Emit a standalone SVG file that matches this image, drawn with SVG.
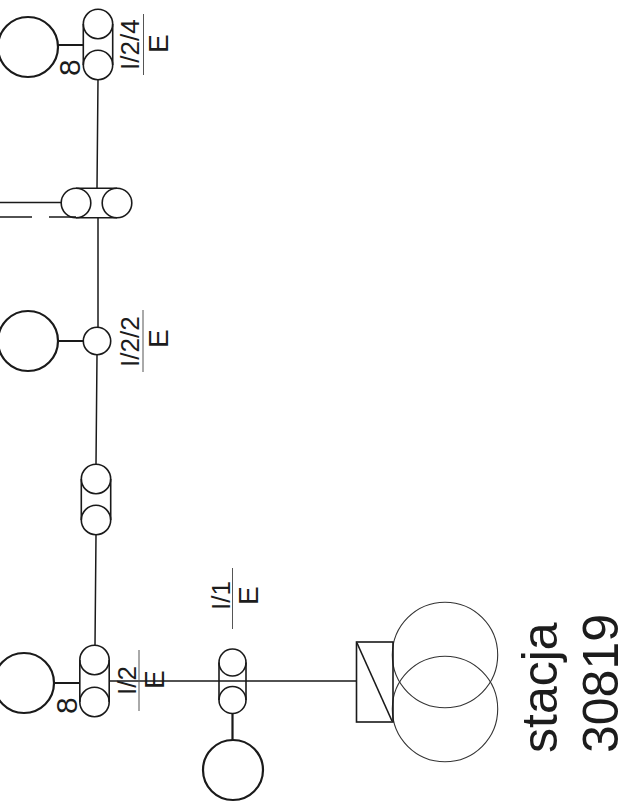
<svg xmlns="http://www.w3.org/2000/svg" width="624" height="810" viewBox="0 0 624 810">
<style>
text{font-family:"Liberation Sans",Arial,sans-serif;fill:#1c1c1c}
.l{font-size:26px}
.e{font-size:28px}
.n{font-size:30px}
.b{font-size:50px}
.big{fill:none;stroke:#1a1a1a;stroke-width:2.2}
.sm{fill:none;stroke:#1a1a1a;stroke-width:1.6}
.tr{fill:none;stroke:#333;stroke-width:1.1}
.w{fill:none;stroke:#1a1a1a;stroke-width:1.5}
.s{fill:none;stroke:#1a1a1a;stroke-width:2.2}
.d{fill:none;stroke:#555;stroke-width:1}
</style>
<rect width="624" height="810" fill="#fff"/>
<g id="connectors">
<path class="w" d="M98 79L97 188M98 217L98 327M97 355L96 464M96 535L95 645M109 681H357"/>
<path class="w" d="M0 202.500H61M0 217H32M49 217H76"/>
<path class="s" d="M57 45H83M57 341H83M54 683H80M232.500 713V740"/>
</g>
<g id="gen-1"><circle class="big" cx="28" cy="47" r="30"/></g>
<g id="gen-2"><circle class="big" cx="28" cy="341" r="30"/></g>
<g id="gen-3"><circle class="big" cx="24" cy="683" r="30"/></g>
<g id="gen-4"><circle class="big" cx="233" cy="770" r="30"/></g>
<g id="node-i24">
<circle class="sm" cx="98" cy="24" r="14.700"/><circle class="sm" cx="98" cy="65" r="14.700"/>
<path class="sm" d="M83.300 24V65M112.700 24V65"/>
</g>
<g id="node-mid">
<circle class="sm" cx="76" cy="203" r="14.800"/><circle class="sm" cx="117" cy="203" r="14.800"/>
<path class="sm" d="M76 188.200H117M76 217.800H117"/>
</g>
<g id="node-i22"><circle class="sm" cx="97" cy="341" r="13.700"/></g>
<g id="node-sec">
<circle class="sm" cx="96" cy="479" r="14.700"/><circle class="sm" cx="96" cy="520" r="14.700"/>
<path class="sm" d="M81.300 479V520M110.700 479V520"/>
</g>
<g id="node-i2">
<circle class="sm" cx="94.500" cy="660" r="14.700"/><circle class="sm" cx="94.500" cy="702" r="14.700"/>
<path class="sm" d="M79.800 660V702M109.200 660V702"/>
</g>
<g id="node-i1">
<circle class="sm" cx="232.500" cy="662.500" r="13.500"/><circle class="sm" cx="232.500" cy="700" r="13.500"/>
<path class="sm" d="M219 662.500V700M246 662.500V700"/>
</g>
<g id="transformer">
<circle class="tr" cx="445" cy="655" r="52.700"/><circle class="tr" cx="445" cy="709" r="52.700"/>
<rect class="sm" x="356.500" y="642" width="36.500" height="80"/>
<path class="sm" d="M357 643L392 721"/>
</g>
<g id="labels">
<path class="d" d="M143.500 14V75M143 310V372M139 650V711M232.500 568V629"/>
<text class="n" transform="translate(80 76) rotate(-90)">8</text>
<text class="n" transform="translate(77 714) rotate(-90)">8</text>
<text class="l" transform="translate(139 70) rotate(-90)">I/2/4</text>
<text class="e" transform="translate(168 53) rotate(-90)">E</text>
<text class="l" transform="translate(139 367) rotate(-90)">I/2/2</text>
<text class="e" transform="translate(168 348) rotate(-90)">E</text>
<text class="l" transform="translate(136 695) rotate(-90)">I/2</text>
<text class="e" transform="translate(164 689) rotate(-90)">E</text>
<text class="l" transform="translate(230 610) rotate(-90)">I/1</text>
<text class="e" transform="translate(258 605) rotate(-90)">E</text>
<text class="b" transform="translate(557 753) rotate(-90)">stacja</text>
<text class="b" transform="translate(618 753) rotate(-90)">30819</text>
</g>
</svg>
